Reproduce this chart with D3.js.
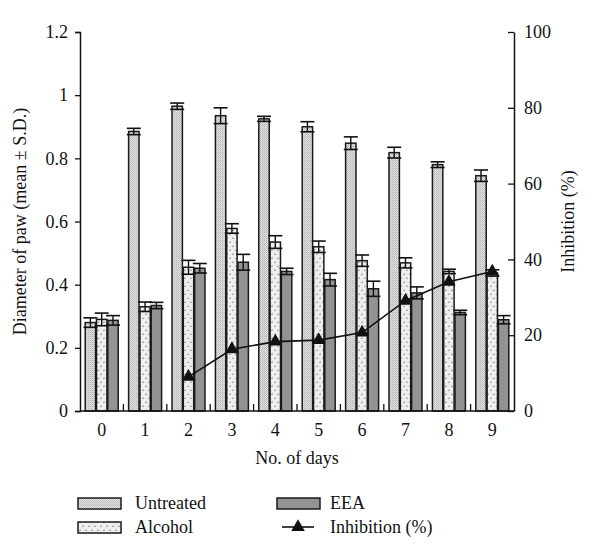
<!DOCTYPE html>
<html><head><meta charset="utf-8">
<script src="https://cdn.jsdelivr.net/npm/d3@7/dist/d3.min.js"></script>
<style>body{margin:0;background:#fff}svg{display:block}</style>
</head><body><svg id="c" width="600" height="557"></svg>
<script>
const days = ["0","1","2","3","4","5","6","7","8","9"];
const seriesNames = ["Untreated","Alcohol","EEA"];
const untreated   = [0.280,0.885,0.965,0.935,0.925,0.900,0.848,0.818,0.780,0.745];
const untreatedSD = [0.015,0.010,0.010,0.025,0.008,0.016,0.020,0.017,0.009,0.018];
const alcohol     = [0.290,0.330,0.455,0.578,0.535,0.520,0.476,0.469,0.442,0.437];
const alcoholSD   = [0.020,0.015,0.022,0.015,0.020,0.018,0.018,0.016,0.007,0.010];
const eea         = [0.287,0.334,0.452,0.471,0.442,0.416,0.387,0.374,0.312,0.289];
const eeaSD       = [0.015,0.010,0.015,0.025,0.010,0.020,0.024,0.019,0.007,0.013];
const inhibitionDays = ["2","3","4","5","6","7","8","9"];
const inhibition  = [9.0,16.3,18.3,18.7,20.7,29.1,34.1,36.8];
const leftTicks = [0,0.2,0.4,0.6,0.8,1,1.2];
const rightTicks = [0,20,40,60,80,100];

const FONT = "'Liberation Serif', 'Times New Roman', 'DejaVu Serif', serif";
const svg = d3.select("#c");
const defs = svg.append("defs");
const p1 = defs.append("pattern").attr("id","pU").attr("patternUnits","userSpaceOnUse").attr("width",2).attr("height",2);
p1.append("rect").attr("width",2).attr("height",2).attr("fill","#e0e0e0");
p1.append("rect").attr("width",1).attr("height",1).attr("fill","#b5b5b5");
p1.append("rect").attr("x",1).attr("y",1).attr("width",1).attr("height",1).attr("fill","#c8c8c8");
const p2 = defs.append("pattern").attr("id","pA").attr("patternUnits","userSpaceOnUse").attr("width",6).attr("height",8);
p2.append("rect").attr("width",6).attr("height",8).attr("fill","#eeeeee");
p2.append("path").attr("d","M1,2.5 L3,2 M4,6.5 L6,6").attr("stroke","#7a7a7a").attr("stroke-width",0.8);
const fills = ["url(#pU)","url(#pA)","#939393"];

const L = 80, R = 514, T = 32, B = 411;
const x = d3.scaleBand().domain(days).range([L,R]).paddingInner(0.24).paddingOuter(0.12);
const xs = d3.scaleBand().domain(seriesNames).range([0,x.bandwidth()]).paddingInner(0.08);
const y = d3.scaleLinear().domain([0,1.2]).range([B,T]);
const y2 = d3.scaleLinear().domain([0,100]).range([B,T]);

const vals = [untreated,alcohol,eea], sds = [untreatedSD,alcoholSD,eeaSD];
const bars = [];
days.forEach((d,i)=>seriesNames.forEach((s,j)=>bars.push({d,s,v:vals[j][i],sd:sds[j][i],j})));

const g = svg.append("g");
g.selectAll("rect.bar").data(bars).join("rect").attr("class","bar")
  .attr("x",b=>x(b.d)+xs(b.s)).attr("width",xs.bandwidth())
  .attr("y",b=>y(b.v)).attr("height",b=>y(0)-y(b.v))
  .attr("fill",b=>fills[b.j]).attr("stroke","#1a1a1a").attr("stroke-width",1.5);
const eb = g.selectAll("g.eb").data(bars).join("g").attr("class","eb")
  .attr("transform",b=>`translate(${x(b.d)+xs(b.s)+xs.bandwidth()/2},0)`);
eb.append("line").attr("y1",b=>y(b.v-b.sd)).attr("y2",b=>y(b.v+b.sd)).attr("stroke","#111").attr("stroke-width",1.4);
eb.append("line").attr("x1",-7).attr("x2",7).attr("y1",b=>y(b.v+b.sd)).attr("y2",b=>y(b.v+b.sd)).attr("stroke","#111").attr("stroke-width",1.6);
eb.append("line").attr("x1",-7).attr("x2",7).attr("y1",b=>y(b.v-b.sd)).attr("y2",b=>y(b.v-b.sd)).attr("stroke","#111").attr("stroke-width",1.6);

const cx = d => x(d)+x.bandwidth()/2;
g.append("path").datum(inhibition).attr("fill","none").attr("stroke","#111").attr("stroke-width",1.6)
  .attr("d",d3.line().x((v,i)=>cx(inhibitionDays[i])).y(v=>y2(v)));
const tri = d3.symbol().type(d3.symbolTriangle).size(80);
g.selectAll("path.tri").data(inhibition).join("path").attr("class","tri")
  .attr("d",tri).attr("fill","#111")
  .attr("transform",(v,i)=>`translate(${cx(inhibitionDays[i])},${y2(v)})`);

const ax = svg.append("g").attr("transform",`translate(${L},0)`)
  .call(d3.axisLeft(y).tickValues(leftTicks).tickSize(5).tickPadding(7).tickFormat(d=>String(+d.toFixed(1))));
const ax2 = svg.append("g").attr("transform",`translate(${R},0)`)
  .call(d3.axisRight(y2).tickValues(rightTicks).tickSizeInner(-6).tickSizeOuter(0));
ax2.selectAll(".tick text").attr("x",10);
const axx = svg.append("g").attr("transform",`translate(0,${B})`)
  .call(d3.axisBottom(x).tickSize(0).tickPadding(12));
const bounds = days.slice(1).map(d=>x(d)-x.step()*x.paddingInner()/2);
svg.append("g").selectAll("line").data(bounds).join("line")
  .attr("x1",d=>d).attr("x2",d=>d).attr("y1",B).attr("y2",B-7).attr("stroke","#111").attr("stroke-width",1.3);
[ax,ax2,axx].forEach(a=>{
  a.attr("font-family",null).attr("font-size",null);
  a.selectAll(".domain").attr("stroke","#111").attr("stroke-width",1.5);
  a.selectAll(".tick line").attr("stroke","#111").attr("stroke-width",1.3);
  a.selectAll(".tick text").style("font-size","18px").style("font-family",FONT).attr("fill","#111");
});
axx.select(".domain").attr("d",`M${L},0H${R}`);

function txt(sel){ return sel.style("font-family",FONT).style("font-size","18px").attr("fill","#111"); }
txt(svg.append("text").attr("transform",`translate(26,${(T+B)/2}) rotate(-90)`).attr("text-anchor","middle")
  .text("Diameter of paw (mean ± S.D.)"));
txt(svg.append("text").attr("transform",`translate(574,${(T+B)/2}) rotate(-90)`).attr("text-anchor","middle")
  .text("Inhibition (%)"));
txt(svg.append("text").attr("x",(L+R)/2).attr("y",464).attr("text-anchor","middle").text("No. of days"));

const leg = svg.append("g");
const items = [
  {name:"Untreated",fill:fills[0],lx:78,ly:498},
  {name:"Alcohol",fill:fills[1],lx:78,ly:522},
  {name:"EEA",fill:fills[2],lx:277,ly:498}
];
items.forEach(it=>{
  leg.append("rect").attr("x",it.lx).attr("y",it.ly).attr("width",43).attr("height",11)
    .attr("fill",it.fill).attr("stroke","#1a1a1a").attr("stroke-width",1.5);
  txt(leg.append("text").attr("x",it.lx+(it.lx>200?53:57)).attr("y",it.ly+11).text(it.name));
});
leg.append("line").attr("x1",282).attr("x2",314).attr("y1",527).attr("y2",527).attr("stroke","#111").attr("stroke-width",1.6);
leg.append("path").attr("d",tri).attr("fill","#111").attr("transform","translate(298,527)");
txt(leg.append("text").attr("x",330).attr("y",533).text("Inhibition (%)"));
</script></body></html>
